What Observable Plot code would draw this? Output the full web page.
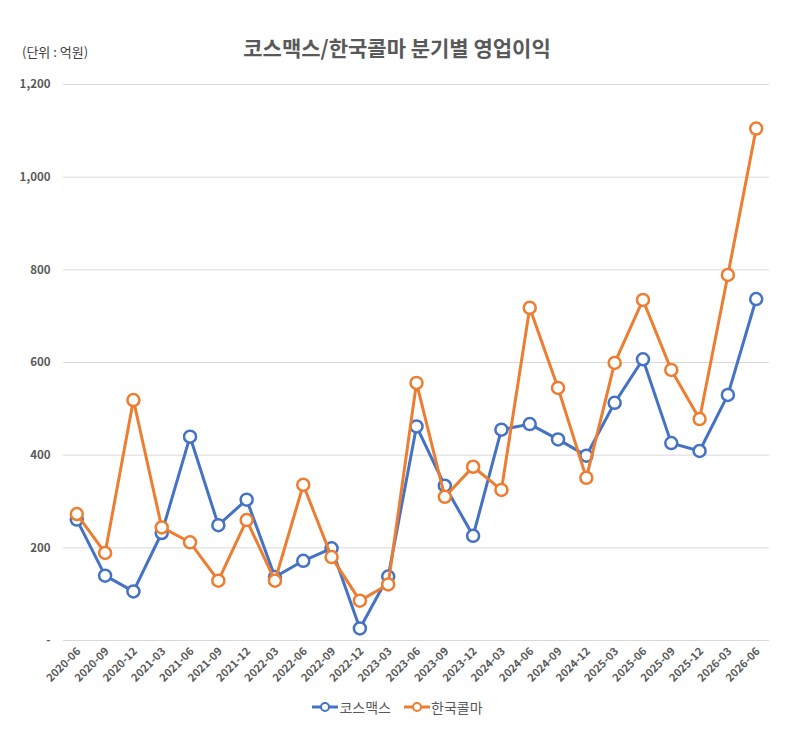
<!DOCTYPE html>
<html><head><meta charset="utf-8">
<script src="https://cdn.jsdelivr.net/npm/d3@7"></script>
<script src="https://cdn.jsdelivr.net/npm/@observablehq/plot@0.6"></script>
<style>
body{margin:0;background:#fff;font-family:"Noto Sans CJK KR","Noto Sans",sans-serif;}
#wrap{position:relative;width:794px;height:736px;}
#title{position:absolute;left:0;width:794px;top:32px;text-align:center;font-size:21px;font-weight:bold;color:#595959;}
#unit{position:absolute;left:22px;top:42px;font-size:13px;color:#404040;}
#chart{position:absolute;left:0;top:70px;}
#legend{position:absolute;left:0;top:697px;width:794px;text-align:center;font-size:14px;color:#595959;}
.li{display:inline-flex;align-items:center;margin:0 6px;}
</style></head>
<body><div id="wrap">
<div id="title">코스맥스/한국콜마 분기별 영업이익</div>
<div id="unit">(단위 : 억원)</div>
<div id="chart"></div>
<div id="legend"></div>
</div>
<script>
const quarters = ["2020-06","2020-09","2020-12","2021-03","2021-06","2021-09","2021-12","2022-03","2022-06","2022-09","2022-12","2023-03","2023-06","2023-09","2023-12","2024-03","2024-06","2024-09","2024-12","2025-03","2025-06","2025-09","2025-12","2026-03","2026-06"];
const cosmax = [261,140,106,232,440,249,304,137,172,199,26,138,462,334,226,455,467,434,399,513,607,426,409,530,737];
const kolmar = [273,189,519,244,212,129,260,129,336,180,86,121,556,310,375,325,718,545,351,599,735,584,478,789,1105];
const seriesNames = ["코스맥스","한국콜마"];
const colors = ["#4472C4","#ED7D31"];
const yTicks = [0,200,400,600,800,1000,1200];

const data = [];
quarters.forEach((q,i)=>{
  data.push({q, v: cosmax[i], s: seriesNames[0]});
  data.push({q, v: kolmar[i], s: seriesNames[1]});
});
const fmt = d => d === 0 ? "-" : d3.format(",")(d);

const marks = [
  Plot.ruleY(yTicks, {stroke:"#d9d9d9", strokeWidth:1}),
];
seriesNames.forEach((name,k)=>{
  const d = data.filter(r=>r.s===name);
  marks.push(Plot.line(d, {x:"q", y:"v", stroke:colors[k], strokeWidth:3}));
  marks.push(Plot.dot(d, {x:"q", y:"v", r:6, fill:"white", stroke:colors[k], strokeWidth:2.5}));
});

const chart = Plot.plot({
  width: 794,
  height: 632,
  marginTop: 14,
  marginBottom: 62,
  marginLeft: 63,
  marginRight: 25,
  style: {fontFamily: '"Noto Sans CJK KR", sans-serif', background: "white"},
  x: {type:"point", domain: quarters, padding: 0.47, round: false, label: null},
  y: {domain:[0,1200], ticks: yTicks, label: null},
  marks: [
    ...marks,
    Plot.axisY(yTicks, {tickSize:0, tickPadding:13, tickFormat: fmt, fontSize: 11.5, fontWeight: "bold", fill:"#595959"}),
    Plot.axisX(quarters, {tickSize:0, tickRotate:-45, tickPadding:9, dx:2, fontSize:11, fontWeight:"bold", fill:"#595959", textAnchor:"end"})
  ]
});
document.getElementById("chart").appendChild(chart);

const leg = document.getElementById("legend");
seriesNames.forEach((name,k)=>{
  const span = document.createElement("span");
  span.className = "li";
  span.innerHTML = `<svg width="28" height="14"><line x1="1" y1="7" x2="27" y2="7" stroke="${colors[k]}" stroke-width="3"/><circle cx="14" cy="7" r="4" fill="white" stroke="${colors[k]}" stroke-width="2"/></svg><span>${name}</span>`;
  leg.appendChild(span);
});
</script>
</body></html>
